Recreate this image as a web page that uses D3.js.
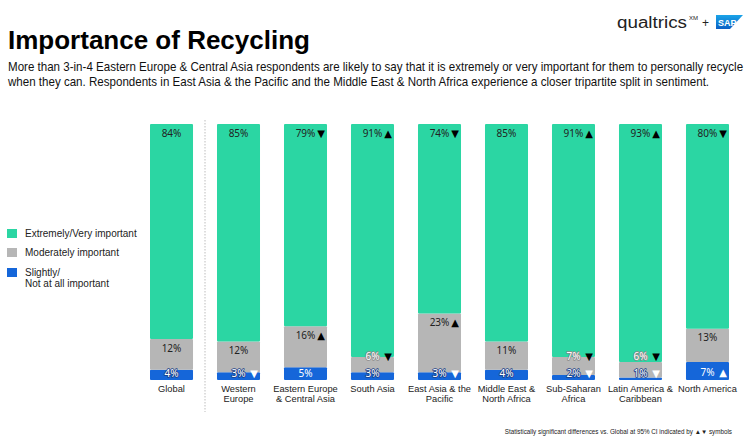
<!DOCTYPE html>
<html><head><meta charset="utf-8">
<script src="https://cdn.jsdelivr.net/npm/d3@7"></script>
<style>
body{margin:0;background:#fff;}
svg{display:block;}
</style></head>
<body>
<svg id="chart" width="750" height="440"></svg>
<script>
const categories = ["Global","Western Europe","Eastern Europe & Central Asia","South Asia","East Asia & the Pacific","Middle East & North Africa","Sub-Saharan Africa","Latin America & Caribbean","North America"];
const categoryLines = [["Global"],["Western","Europe"],["Eastern Europe","& Central Asia"],["South Asia"],["East Asia & the","Pacific"],["Middle East &","North Africa"],["Sub-Saharan","Africa"],["Latin America &","Caribbean"],["North America"]];
const extremely = [84,85,79,91,74,85,91,93,80];
const moderately = [12,12,16,6,23,11,7,6,13];
const slightly = [4,3,5,3,3,4,2,1,7];
const extremelySig = ["","","down","up","down","","up","up","down"];
const moderatelySig = ["","","up","down","up","","down","down",""];
const slightlySig = ["","down","","","down","","down","down","up"];
const seriesNames = ["Extremely/Very important","Moderately important","Slightly/\nNot at all important"];
const colors = ["#2bd6a3","#b6b6b6","#1566d9"];

const svg = d3.select("#chart");
const sans = "'Liberation Sans', Arial, sans-serif";
const labelFont = "'Noto Sans', 'Open Sans', sans-serif";

// condensed text helper: scale horizontally to a target width
function condensed(parent, x, yy, str, size, width, attrs){
  const gg = parent.append("g");
  const t = gg.append("text").attr("x",0).attr("y",0).attr("font-family",sans).attr("font-size",size).text(str);
  Object.entries(attrs||{}).forEach(([k,v])=>t.attr(k,v));
  const nat = t.node().getComputedTextLength();
  gg.attr("transform",`translate(${x},${yy}) scale(${width/nat},1)`);
  return t;
}

// Title & subtitle
svg.append("text").attr("x",8).attr("y",49).attr("font-family",sans).attr("font-weight","bold")
  .attr("font-size",26).attr("fill","#000").text("Importance of Recycling");
const sub = ["More than 3-in-4 Eastern Europe & Central Asia respondents are likely to say that it is extremely or very important for them to personally recycle",
  "when they can. Respondents in East Asia & the Pacific and the Middle East & North Africa experience a closer tripartite split in sentiment."];
const subLen = [736, 702];
sub.forEach((s,i)=>{
  condensed(svg, 8, 71+i*15, s, 12.5, subLen[i], {fill:"#111"});
});

// Logo
const logo = svg.append("g");
condensed(logo, 617, 28, "qualtrics", 16, 70, {fill:"#222"});
logo.append("text").attr("x",689).attr("y",20).attr("font-family",sans).attr("font-size",6).attr("fill","#222").text("XM");
logo.append("text").attr("x",702).attr("y",27).attr("font-family",sans).attr("font-size",12).attr("fill","#222").text("+");
const grad = svg.append("defs").append("linearGradient").attr("id","sapg").attr("x1",0).attr("y1",0).attr("x2",0).attr("y2",1);
grad.append("stop").attr("offset","0%").attr("stop-color","#1aa4e8");
grad.append("stop").attr("offset","100%").attr("stop-color","#0a5fc4");
logo.append("path").attr("d","M716,15 L743,15 L730,29 L716,29 Z").attr("fill","url(#sapg)");
logo.append("text").attr("x",718).attr("y",26).attr("font-family",sans).attr("font-weight","bold")
  .attr("font-size",9).attr("fill","#fff").text("SAP");

// Scales
const x = d3.scaleBand().domain(categories).range([150,729]).paddingInner(0.358).paddingOuter(0);
const y = d3.scaleLinear().domain([0,100]).range([380,124]);

// Separator dotted line
svg.append("line").attr("x1",205).attr("x2",205).attr("y1",120).attr("y2",412)
  .attr("stroke","#bdbdbd").attr("stroke-width",1).attr("stroke-dasharray","1.5,1.5");

const rows = categories.map((c,i)=>({c, i, vals:[extremely[i],moderately[i],slightly[i]], sig:[extremelySig[i],moderatelySig[i],slightlySig[i]]}));

const g = svg.append("g");
rows.forEach(r=>{
  const x0 = x(r.c), w = x.bandwidth();
  const s = r.vals[2], m = r.vals[1], e = r.vals[0];
  const segs = [
    {k:2, lo:0, hi:s},
    {k:1, lo:s, hi:s+m},
    {k:0, lo:s+m, hi:s+m+e}
  ];
  segs.forEach(sg=>{
    g.append("rect").attr("x",x0).attr("width",w)
      .attr("y",y(sg.hi)).attr("height",y(sg.lo)-y(sg.hi))
      .attr("fill",colors[sg.k]).attr("rx",1);
  });
  const bottom = y(0);
  const blueY = Math.min(y(s)+10, bottom-7);
  const grayY = Math.min(y(s+m)+9, blueY-17);
  const greenY = y(s+m+e)+9;
  const labelYs = [greenY, grayY, blueY];
  [0,1,2].forEach(k=>{
    const v = r.vals[k];
    const outlined = k===2 ? v<5 : (k===1 ? v<10 : false);
    const fill = k===2 ? "#fff" : (outlined ? "#fff" : "#222");
    const t = g.append("text").attr("x",x0+w/2).attr("y",labelYs[k]).attr("dy","0.35em")
      .attr("text-anchor","middle").attr("font-family",labelFont).attr("font-size",10)
      .attr("fill",fill).text(v+"%");
    if(outlined){
      t.attr("stroke", k===2 ? "#1d3f86" : "#8a8a8a").attr("stroke-width",1.6)
       .attr("paint-order","stroke").attr("stroke-linejoin","round");
    }
    if(r.sig[k]){
      g.append("text").attr("x",x0+w-6).attr("y",labelYs[k]).attr("dy","0.36em")
        .attr("text-anchor","middle").attr("font-family","'DejaVu Sans', sans-serif").attr("font-size",10)
        .attr("fill", k===2 ? "#fff" : "#000").text(r.sig[k]==="up" ? "▲" : "▼");
    }
  });
  categoryLines[r.i].forEach((ln,j)=>{
    g.append("text").attr("x",x0+w/2).attr("y",392+j*9.5).attr("text-anchor","middle")
      .attr("font-family",sans).attr("font-size",9.3).attr("fill","#222").text(ln);
  });
});

// Legend
const legY = [229,248,268];
seriesNames.forEach((n,i)=>{
  svg.append("rect").attr("x",7).attr("y",legY[i]).attr("width",10).attr("height",9).attr("fill",colors[i]);
  n.split("\n").forEach((ln,j)=>{
    svg.append("text").attr("x",25).attr("y",legY[i]+8+j*11).attr("font-family",sans).attr("font-size",10)
      .attr("fill","#222").text(ln);
  });
});

// Footnote
svg.append("text").attr("x",732).attr("y",434).attr("text-anchor","end").attr("font-family",sans)
  .attr("font-size",6.3).attr("fill","#222").text("Statistically significant differences vs. Global at 95% CI indicated by ▲▼ symbols");
</script>
</body></html>
